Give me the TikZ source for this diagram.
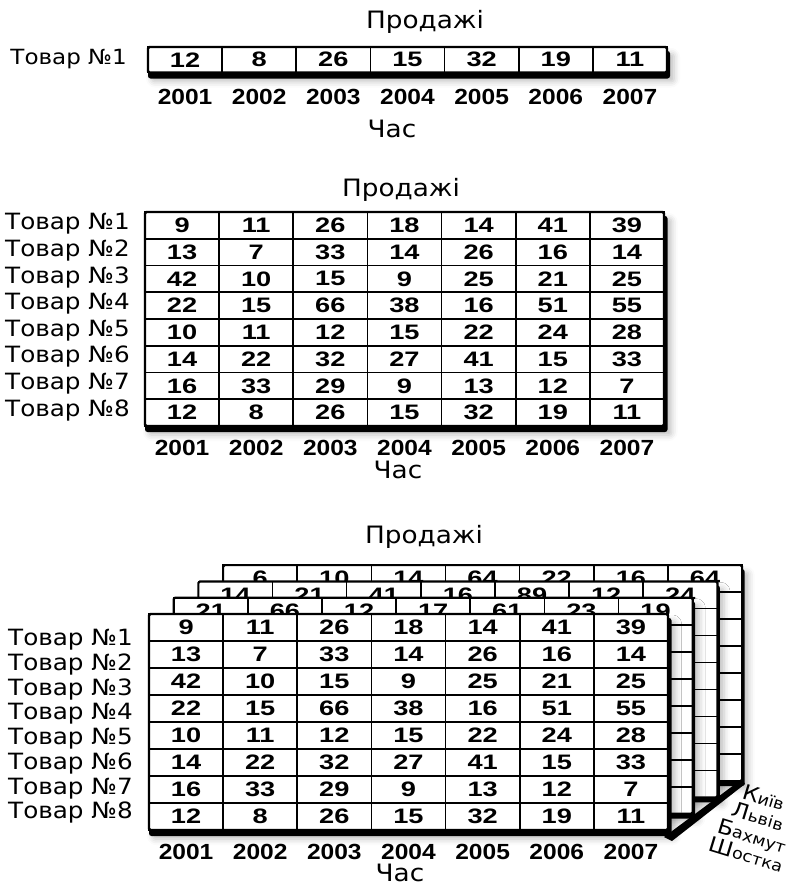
\documentclass[tikz,border=0pt]{standalone}
\usepackage{fontspec}
\setmainfont[FakeStretch=1.1]{DejaVu Sans}
\newfontfamily\cellfont[FakeStretch=1.3]{Liberation Sans Bold}
\newfontfamily\yearfont[FakeStretch=1.12]{Liberation Sans Bold}
\usetikzlibrary{shadows.blur}

\tikzset{
  cell/.style={draw, line width=1.6pt, fill=white, minimum width=74.14bp,
    minimum height=26.75bp, inner sep=0pt, font=\cellfont\fontsize{21}{21}\selectfont},
  frame/.style={draw, line width=2.2pt, rounded corners=1.5bp},
  base/.style={fill=black, rounded corners=2.5bp,
    blur shadow={shadow xshift=4bp, shadow yshift=-3bp, shadow opacity=25, shadow blur radius=6bp}},
  title/.style={font=\fontsize{24}{24}\selectfont},
  item/.style={anchor=east, inner sep=0pt, font=\fontsize{22.5}{22.5}\selectfont},
  year/.style={font=\yearfont\fontsize{22}{22}\selectfont},
  city/.style={rotate=-17, inner sep=0pt, align=center, font=\fontsize{16}{20}\selectfont},
}

% дані продажів
\newcommand{\salesdata}{{9,11,26,18,14,41,39},{13,7,33,14,26,16,14},
  {42,10,15,9,25,21,25},{22,15,66,38,16,51,55},{10,11,12,15,22,24,28},
  {14,22,32,27,41,15,33},{16,33,29,9,13,12,7},{12,8,26,15,32,19,11}}

% аркуш позаду: ім'я, лівий край, верх, числа першого рядка
\newcommand{\backsheet}[4]{%
  \path[base] (#2,#3+4) rectangle ({#2+521.5},{#3+221});
  \foreach \r in {2,...,8}
    \foreach \c in {1,...,7}
      \node[cell, minimum height=27bp] (#1-\r-\c) at ({#2+(\c-0.5)*74.14},{#3+(\r-0.5)*27}) {};
  \foreach \v [count=\c] in {#4}
    \node[cell, minimum height=27bp] (#1-1-\c) at ({#2+(\c-0.5)*74.14},{#3+13.5}) {\v};
  \draw[frame] (#2,#3) rectangle ({#2+519},{#3+216});
}

\newcommand{\capletter}[1]{{\fontsize{21}{20}\selectfont #1}}

\begin{document}
\begin{tikzpicture}[x=1bp, y=-1bp]
  \useasboundingbox (0,0) rectangle (793,890);

  % ==================================================
  % Один товар
  % ==================================================

  \node[title] (sales1) at (425,22) {Продажі};
  \node[item, font=\fontsize{21}{21}\selectfont] (item1) at (127,59) {Товар №1};

  \path[base] (148,51) rectangle (670,78.5);
  \foreach \v [count=\c] in {12,8,26,15,32,19,11}
    \node[cell, minimum height=25.5bp] (a-\c) at ({148+(\c-0.5)*74.14},59.75) {\v};
  \draw[frame] (148,47) rectangle (667,72.5);

  % роки
  \foreach \yr [count=\c] in {2001,...,2007}
    \node[year] (ya-\c) at ({148+(\c-0.5)*74.14},97) {\yr};
  \node[title] (time1) at (392,129) {Час};

  % ==================================================
  % Вісім товарів
  % ==================================================

  \node[title] (sales2) at (401,190) {Продажі};

  \path[base] (145,216) rectangle (667.5,432);
  \foreach \row [count=\r] in \salesdata
    \foreach \v [count=\c] in \row
      \node[cell] (b-\r-\c) at ({145+(\c-0.5)*74.14},{212+(\r-0.5)*26.75}) {\v};
  \draw[frame] (145,212) rectangle (664,426);

  % назви товарів
  \foreach \r in {1,...,8}
    \node[item] (itemb-\r) at (130,{224+(\r-1)*26.6}) {Товар №\r};

  \foreach \yr [count=\c] in {2001,...,2007}
    \node[year] (yb-\c) at ({145+(\c-0.5)*74.14},448) {\yr};
  \node[title] (time2) at (398,470) {Час};

  % ==================================================
  % Вісім товарів, чотири міста
  % ==================================================

  \node[title] (sales3) at (424,537) {Продажі};

  % тінь під загнутими кутами
  \fill[black] (664,837) -- (742,779) -- (745,784) -- (672,841) -- cycle;

  % аркуші позаду
  \backsheet{k}{223.1}{565.1}{6,10,14,64,22,16,64}
  \backsheet{l}{198.4}{581.4}{14,21,41,16,89,12,24}
  \backsheet{m}{173.7}{597.7}{21,66,12,17,61,23,19}

  % передній аркуш
  \path[base] (149,618) rectangle (671.5,836);
  \foreach \row [count=\r] in \salesdata
    \foreach \v [count=\c] in \row
      \node[cell, minimum height=27bp] (f-\r-\c) at ({149+(\c-0.5)*74.14},{614+(\r-0.5)*27}) {\v};
  \draw[frame] (149,614) rectangle (668,830);

  \foreach \r in {1,...,8}
    \node[item] (itemf-\r) at (133,{640+(\r-1)*24.7}) {Товар №\r};

  \foreach \yr [count=\c] in {2001,...,2007}
    \node[year] (yf-\c) at ({149+(\c-0.5)*74.14},852) {\yr};
  \node[title] (time3) at (400,873) {Час};

  % міста
  \node[city] (cities) at (755,826)
    {\capletter{К}иїв\\\capletter{Л}ьвів\\\capletter{Б}ахмут\\\capletter{Ш}остка};

\end{tikzpicture}
\end{document}
